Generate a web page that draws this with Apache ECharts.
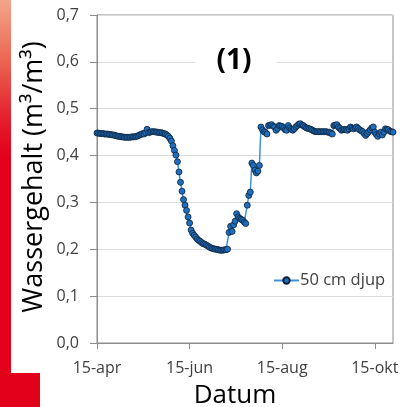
<!DOCTYPE html>
<html>
<head>
<meta charset="utf-8">
<script src="https://cdn.jsdelivr.net/npm/echarts@6/dist/echarts.min.js"></script>
<style>
html,body{margin:0;padding:0;background:#fff;}
#chart{width:403px;height:407px;}
</style>
</head>
<body>
<div id="chart"></div>
<script>
// Day 0 = 15-apr; one value per day
const seriesName = '50 cm djup';
const waterContent = [
  0.448,0.448,0.447,0.447,0.447,0.446,0.446,0.446,0.445,0.445,
  0.444,0.444,0.443,0.442,0.441,0.441,0.440,0.440,0.439,0.439,
  0.439,0.439,0.439,0.440,0.440,0.440,0.441,0.442,0.444,0.445,
  0.447,0.446,0.449,0.456,0.449,0.450,0.451,0.451,0.451,0.450,
  0.450,0.449,0.449,0.448,0.447,0.446,0.444,0.441,0.437,0.431,
  0.421,0.411,0.401,0.387,0.365,0.343,0.324,0.306,0.294,0.283,
  0.269,0.256,0.241,0.234,0.230,0.226,0.222,0.219,0.217,0.214,
  0.212,0.211,0.209,0.207,0.205,0.203,0.202,0.201,0.200,0.200,
  0.199,0.198,0.198,0.198,0.199,0.199,0.200,0.236,0.249,0.238,
  0.252,0.260,0.276,0.269,0.266,0.264,0.262,0.258,0.255,0.294,
  0.315,0.322,0.384,0.379,0.369,0.363,0.367,0.379,0.461,0.455,
  0.451,0.449,0.446,0.464,0.465,0.466,0.463,0.461,0.454,0.458,
  0.464,0.463,0.462,0.459,0.455,0.454,0.464,0.459,0.456,0.454,
  0.457,0.461,0.464,0.467,0.468,0.465,0.464,0.461,0.459,0.458,
  0.457,0.456,0.454,0.452,0.451,0.451,0.451,0.451,0.451,0.451,
  0.451,0.451,0.450,0.450,0.448,0.446,0.464,0.465,0.466,0.461,
  0.458,0.454,0.455,0.456,0.455,0.454,0.457,0.461,0.459,0.457,
  0.459,0.461,0.458,0.455,0.453,0.451,0.447,0.443,0.447,0.451,
  0.455,0.459,0.461,0.450,0.445,0.441,0.446,0.450,0.444,0.450,
  0.457,0.456,0.455,0.452,0.451,0.450
];
const xTickDays = [0, 61, 122, 183];
const xTickLabels = ['15-apr', '15-jun', '15-aug', '15-okt'];
const xMaxDay = 195;
const yMin = 0, yMax = 0.7, yStep = 0.1;
const yTitle = 'Wassergehalt (m³/m³)';
const xTitle = 'Datum';
const panelLabel = '(1)';

const points = waterContent.map((v, i) => [i, v]);
const font = 'Open Sans';

const chart = echarts.init(document.getElementById('chart'), null, {renderer: 'canvas'});
chart.setOption({
  animation: false,
  backgroundColor: '#ffffff',
  grid: {
    left: 97, top: 15, right: 10, bottom: 64,
    show: true, borderColor: '#8c8c8c', borderWidth: 1, backgroundColor: 'transparent'
  },
  legend: {
    data: [seriesName],
    left: 268, top: 267,
    itemWidth: 25, itemHeight: 8, itemGap: 4,
    textStyle: {fontFamily: font, fontSize: 16.5, color: '#404040', padding: [0, 0, 0, -4]}
  },
  xAxis: {
    type: 'value', min: 0, max: xMaxDay, interval: 61,
    axisLine: {show: true, lineStyle: {color: '#8c8c8c', width: 1}},
    axisTick: {show: true, length: 6, inside: false, customValues: xTickDays, lineStyle: {color: '#8c8c8c'}},
    axisLabel: {
      customValues: xTickDays, margin: 17,
      fontFamily: font, fontSize: 16, color: '#404040',
      formatter: v => { const k = xTickDays.indexOf(Math.round(v)); return k >= 0 ? xTickLabels[k] : ''; }
    },
    splitLine: {show: false}
  },
  yAxis: {
    type: 'value', min: yMin, max: yMax, interval: yStep,
    axisLine: {show: true, lineStyle: {color: '#8c8c8c', width: 1}},
    axisTick: {show: true, length: 7, inside: false, lineStyle: {color: '#8c8c8c'}},
    axisLabel: {
      margin: 18, fontFamily: font, fontSize: 16, color: '#404040',
      formatter: v => v.toFixed(1).replace('.', ',')
    },
    splitLine: {show: true, lineStyle: {color: '#dcdcdc', width: 1}}
  },
  series: [{
    name: seriesName,
    type: 'line',
    data: points,
    showSymbol: true, showAllSymbol: true,
    symbol: 'circle', symbolSize: 6,
    lineStyle: {color: '#3f92de', width: 1.5},
    itemStyle: {color: '#1f6fc0', borderColor: '#0c2238', borderWidth: 0.8},
    z: 3
  }],
  graphic: [
    {type: 'rect', z: 100, shape: {x: 0, y: 0, width: 11, height: 375},
     style: {fill: new echarts.graphic.LinearGradient(0, 0, 0, 1, [
       {offset: 0, color: '#f3a68b'},
       {offset: 0.15, color: '#eb6a55'},
       {offset: 0.32, color: '#e41d2c'},
       {offset: 0.42, color: '#e2001a'},
       {offset: 1, color: '#e2001a'}
     ])}},
    {type: 'rect', z: 100, shape: {x: 0, y: 373, width: 40, height: 34}, style: {fill: '#e2001a'}},
    {type: 'text', z: 100, x: 34, y: 177, rotation: Math.PI / 2,
     style: {text: yTitle, x: 0, y: 0, align: 'center', verticalAlign: 'middle',
             fontFamily: font, fontSize: 27, fill: '#000000'}},
    {type: 'text', z: 100, x: 235, y: 396,
     style: {text: xTitle, x: 0, y: 0, align: 'center', verticalAlign: 'middle',
             fontFamily: font, fontSize: 26, fill: '#000000'}},
    {type: 'rect', z: 90, shape: {x: 195, y: 46, width: 82, height: 31}, style: {fill: '#ffffff'}},
    {type: 'text', z: 100, x: 234, y: 61,
     style: {text: panelLabel, x: 0, y: 0, align: 'center', verticalAlign: 'middle',
             fontFamily: font, fontSize: 28, fontWeight: 'bold', fill: '#000000'}}
  ]
});
</script>
</body>
</html>
